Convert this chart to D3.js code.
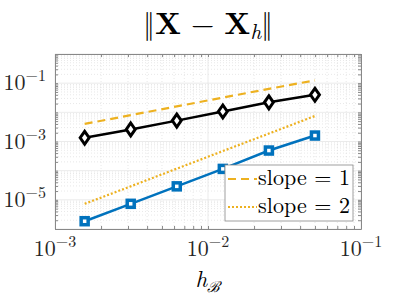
<!DOCTYPE html>
<html><head><meta charset="utf-8">
<script src="https://cdn.jsdelivr.net/npm/d3@7"></script>
<style>body{margin:0;background:#fff}svg{display:block}</style>
</head><body>
<script>
const hValues = [0.0015625, 0.003125, 0.00625, 0.0125, 0.025, 0.05];
const errBlack = [1.34e-3, 2.6e-3, 5.2e-3, 1.07e-2, 2.2e-2, 4.0e-2];
const errBlue = [1.85e-6, 7.3e-6, 2.9e-5, 1.15e-4, 4.9e-4, 1.6e-3];
const slope1 = [4.0e-3, 8.0e-3, 1.6e-2, 3.2e-2, 6.4e-2, 1.25e-1];
const slope2 = [7.3e-6, 2.9e-5, 1.17e-4, 4.7e-4, 1.87e-3, 7.5e-3];
const xTickExps = [-3, -2, -1];
const yTickExps = [-5, -3, -1];
const legendLabels = ["slope = 1", "slope = 2"];

const W = 399, H = 299;
const L = 55, R = 361, T = 54, B = 229;
const svg = d3.select("body").append("svg").attr("width", W).attr("height", H);
const x = d3.scaleLog().domain([1e-3, 1e-1]).range([L, R]);
const y = d3.scaleLog().domain([1e-6, 1e0]).range([B, T]);
const font = "'Latin Modern Roman','CMU Serif','Liberation Serif',serif";

// grid
const g = svg.append("g");
const minorX = [], minorY = [];
for (let e = -3; e < -1; e++) for (let k = 2; k <= 9; k++) minorX.push(k * Math.pow(10, e));
for (let e = -6; e < 0; e++) for (let k = 2; k <= 9; k++) minorY.push(k * Math.pow(10, e));
const majorX = [1e-3, 1e-2, 1e-1];
const majorY = d3.range(-6, 1).map(e => Math.pow(10, e));
g.selectAll(".mx").data(minorX).join("line").attr("x1", d => x(d)).attr("x2", d => x(d)).attr("y1", T).attr("y2", B)
  .attr("stroke", "#d9d9d9").attr("stroke-width", 0.6).attr("stroke-dasharray", "1,2");
g.selectAll(".my").data(minorY).join("line").attr("y1", d => y(d)).attr("y2", d => y(d)).attr("x1", L).attr("x2", R)
  .attr("stroke", "#d9d9d9").attr("stroke-width", 0.6).attr("stroke-dasharray", "1,2");
g.selectAll(".Mx").data(majorX).join("line").attr("x1", d => x(d)).attr("x2", d => x(d)).attr("y1", T).attr("y2", B)
  .attr("stroke", "#e6e6e6").attr("stroke-width", 0.8);
g.selectAll(".My").data(majorY).join("line").attr("y1", d => y(d)).attr("y2", d => y(d)).attr("x1", L).attr("x2", R)
  .attr("stroke", "#e6e6e6").attr("stroke-width", 0.8);

// axes with inner ticks
const axColor = "#262626";
function styleAxis(sel) { sel.selectAll("path").attr("stroke", "#888"); sel.selectAll("line").attr("stroke", "#888"); sel.selectAll("text").remove(); }
const allX = majorX.concat(minorX), allY = majorY.concat(minorY);
svg.append("g").attr("transform", `translate(0,${B})`).call(d3.axisTop(x).tickValues(allX).tickSize(3).tickSizeOuter(0)).call(styleAxis);
svg.append("g").attr("transform", `translate(0,${T})`).call(d3.axisBottom(x).tickValues(allX).tickSize(3).tickSizeOuter(0)).call(styleAxis);
svg.append("g").attr("transform", `translate(${L},0)`).call(d3.axisRight(y).tickValues(allY).tickSize(3).tickSizeOuter(0)).call(styleAxis);
svg.append("g").attr("transform", `translate(${R},0)`).call(d3.axisLeft(y).tickValues(allY).tickSize(3).tickSizeOuter(0)).call(styleAxis);

// tick labels
xTickExps.forEach(e => {
  const t = svg.append("text").attr("x", x(Math.pow(10, e))).attr("y", B + 27).attr("text-anchor", "middle")
    .attr("font-family", font).attr("font-size", 22).attr("fill", axColor);
  t.append("tspan").text("10");
  t.append("tspan").attr("dy", -9).attr("font-size", 16).text("−" + Math.abs(e));
});
yTickExps.forEach(e => {
  const t = svg.append("text").attr("x", L - 9).attr("y", y(Math.pow(10, e)) + 7).attr("text-anchor", "end")
    .attr("font-family", font).attr("font-size", 22).attr("fill", axColor);
  t.append("tspan").text("10");
  t.append("tspan").attr("dy", -9).attr("font-size", 16).text("−" + Math.abs(e));
});

// reference lines
const line = (ys) => d3.line().x((d, i) => x(hValues[i])).y(d => y(d))(ys);
svg.append("path").attr("d", line(slope1)).attr("fill", "none").attr("stroke", "#EDB120").attr("stroke-width", 2.2).attr("stroke-dasharray", "8,5");
svg.append("path").attr("d", line(slope2)).attr("fill", "none").attr("stroke", "#EDB120").attr("stroke-width", 2.2).attr("stroke-dasharray", "2,2");

// data series
svg.append("path").attr("d", line(errBlack)).attr("fill", "none").attr("stroke", "#000").attr("stroke-width", 2.5);
svg.append("path").attr("d", line(errBlue)).attr("fill", "none").attr("stroke", "#0072BD").attr("stroke-width", 2.5);
svg.selectAll(".dia").data(errBlack).join("path")
  .attr("d", d3.symbol().type(d3.symbolDiamond2).size(80)())
  .attr("transform", (d, i) => `translate(${x(hValues[i])},${y(d)}) scale(0.8,1.15)`)
  .attr("fill", "#fff").attr("stroke", "#000").attr("stroke-width", 3.2);
svg.selectAll(".sq").data(errBlue).join("rect")
  .attr("x", (d, i) => x(hValues[i]) - 3.5).attr("y", d => y(d) - 3.5).attr("width", 7).attr("height", 7)
  .attr("fill", "#fff").attr("stroke", "#0072BD").attr("stroke-width", 3.5);

// legend
const lg = svg.append("g");
lg.append("rect").attr("x", 225).attr("y", 165).attr("width", 128).attr("height", 56)
  .attr("fill", "#fff").attr("stroke", "#888").attr("stroke-width", 0.8);
const dashes = ["8,5", "2,2"];
legendLabels.forEach((lab, i) => {
  const yy = 179 + i * 28;
  lg.append("line").attr("x1", 228).attr("x2", 257).attr("y1", yy).attr("y2", yy)
    .attr("stroke", "#EDB120").attr("stroke-width", 2.2).attr("stroke-dasharray", dashes[i]);
  lg.append("text").attr("x", 258).attr("y", yy + 6).attr("font-family", font).attr("font-size", 22)
    .attr("fill", "#000").attr("textLength", 92).attr("lengthAdjust", "spacing").text(lab);
});

// title
const tt = svg.append("text").attr("x", 208).attr("y", 34).attr("text-anchor", "middle")
  .attr("font-family", font).attr("font-size", 30).attr("fill", "#000");
tt.append("tspan").text("‖");
tt.append("tspan").attr("font-weight", "bold").text("X");
tt.append("tspan").text(" − ");
tt.append("tspan").attr("font-weight", "bold").text("X");
tt.append("tspan").attr("font-style", "italic").attr("font-size", 21).attr("dy", 5).text("h");
tt.append("tspan").attr("dy", -5).text("‖");

// x label
const xl = svg.append("text").attr("x", 208).attr("y", 287).attr("text-anchor", "middle")
  .attr("font-family", font).attr("font-size", 23).attr("fill", "#000");
xl.append("tspan").attr("font-style", "italic").text("h");
xl.append("tspan").attr("font-style", "italic").attr("font-size", 15).attr("dy", 5).text("ℬ");
</script>
</body></html>
